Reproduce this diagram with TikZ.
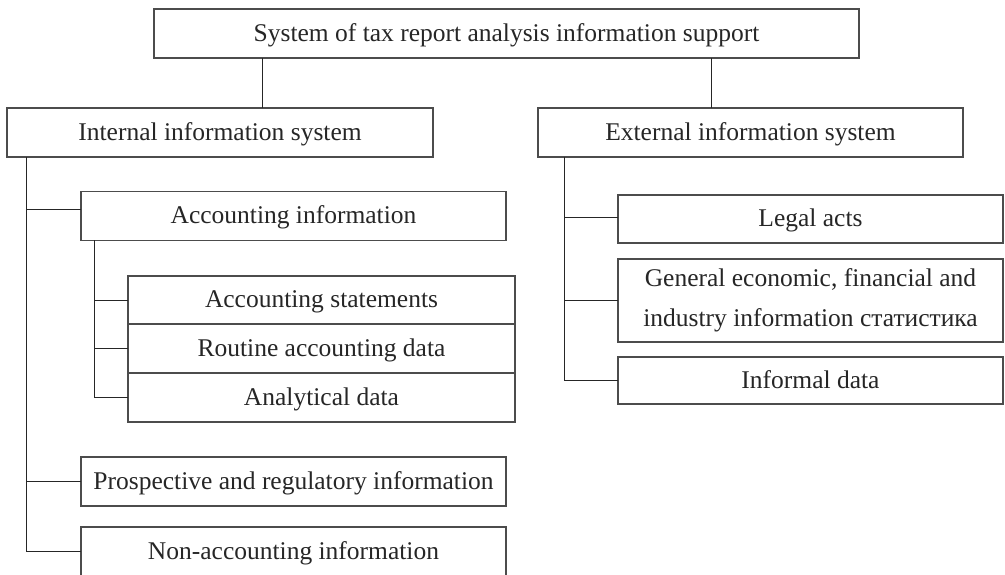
\documentclass[tikz,border=0pt]{standalone}
\usepackage{fontspec}
\setmainfont{Liberation Serif}
\usepackage{tikz}
\tikzstyle{block} = [rectangle, draw=black!70, line width=1.1pt, minimum height=49pt,
                     inner sep=2pt, outer sep=0pt, text centered, text=black!85,
                     text height=18pt, text depth=3pt,
                     font=\fontsize{25.5}{40}\selectfont]
\tikzstyle{sub} = [block, minimum width=387pt]
\tikzstyle{link} = [draw=black!85, line width=1pt]

\begin{document}
\begin{tikzpicture}[x=1pt, y=-1pt]
  \useasboundingbox (0, 0) rectangle (1005, 574);
  % top level
  \node (top) [block, minimum width=705pt] at (506.5, 33.5) {System of tax report analysis information support};
  \node (internal) [block, minimum width=426pt] at (220, 132.5) {Internal information system};
  \node (external) [block, minimum width=425pt] at (750.5, 132.5) {External information system};
  % internal side
  \node (accinfo) [block, minimum width=425pt, minimum height=48.5pt] at (293.5, 216) {Accounting information};
  \node (stmts) [sub, minimum height=48pt] at (321.5, 300) {Accounting statements};
  \node (routine) [sub] at (321.5, 348.5) {Routine accounting data};
  \node (analytical) [sub] at (321.5, 397.5) {Analytical data};
  \node (prosp) [block, minimum width=425pt] at (293.5, 481.5) {Prospective and regulatory information};
  \node (nonacc) [block, minimum width=425pt] at (293.5, 551.5) {Non-accounting information};
  % external side
  \node (legal) [block, minimum width=385pt, minimum height=48pt] at (810.5, 219) {Legal acts};
  \node (general) [block, text height=, text depth=, minimum width=385pt, minimum height=83pt, align=center]
    at (810.5, 300.5) {General economic, financial and\\industry information статистика};
  \node (informal) [block, minimum width=385pt, minimum height=47pt] at (810.5, 380.5) {Informal data};

  \coordinate (itrunk) at ([xshift=19]internal.south west);
  \coordinate (atrunk) at ([xshift=13]accinfo.south west);
  \coordinate (etrunk) at ([xshift=26]external.south west);

  \draw [link] ([xshift=42]internal.north) -- ([xshift=42]internal.north |- top.south);
  \draw [link] ([xshift=-39.5]external.north) -- ([xshift=-39.5]external.north |- top.south);

  \draw [link] (itrunk) |- (nonacc.west);
  \draw [link] ([yshift=7]accinfo.west) -- ([yshift=7]accinfo.west -| itrunk);
  \draw [link] (prosp.west) -- (prosp.west -| itrunk);

  \draw [link] (atrunk) |- (analytical.west);
  \draw [link] (stmts.west) -- (stmts.west -| atrunk);
  \draw [link] (routine.west) -- (routine.west -| atrunk);

  \draw [link] (etrunk) |- (informal.west);
  \draw [link] ([yshift=2]legal.west) -- ([yshift=2]legal.west -| etrunk);
  \draw [link] (general.west) -- (general.west -| etrunk);
\end{tikzpicture}
\end{document}
